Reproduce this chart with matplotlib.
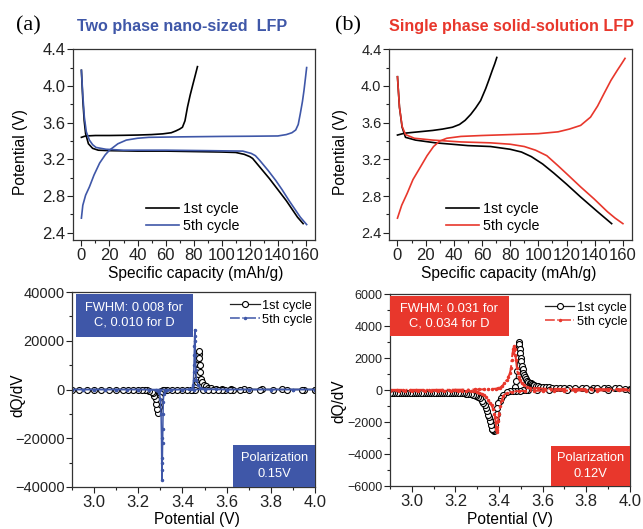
import matplotlib
matplotlib.use('Agg')
import matplotlib.pyplot as plt
from matplotlib.lines import Line2D
from matplotlib.patches import Rectangle
from matplotlib.ticker import MultipleLocator

plt.rcParams['font.family'] = ['Liberation Sans', 'DejaVu Sans']

BLUE = '#3f57a8'
RED = '#e8372c'

# ---- (a) galvanostatic curves, two phase nano-sized LFP ----
a1_chg_cap = [0, 3, 10, 20, 30, 40, 50, 58, 64, 67.3, 70, 72, 73.8, 75.6, 77.5, 79.5, 81.2, 82.7]
a1_chg_v = [3.44, 3.455, 3.46, 3.46, 3.462, 3.465, 3.47, 3.478, 3.49, 3.51, 3.53, 3.55, 3.62, 3.77, 3.90, 4.02, 4.12, 4.21]
a1_dis_cap = [0, 1, 2, 3, 5, 8, 12, 20, 40, 60, 80, 100, 110, 116, 120, 122, 128, 134, 140, 146, 150, 154, 158]
a1_dis_v = [4.17, 3.85, 3.62, 3.48, 3.37, 3.32, 3.30, 3.295, 3.29, 3.29, 3.285, 3.28, 3.275, 3.255, 3.23, 3.21, 3.10, 2.99, 2.87, 2.75, 2.66, 2.57, 2.50]
a5_chg_cap = [0, 1, 3, 5.7, 9, 13, 17, 20, 26, 32, 40, 48, 70, 100, 120, 140, 146, 150, 152.7, 154.5, 156, 157.5, 158.6, 159.6, 160.5]
a5_chg_v = [2.56, 2.70, 2.81, 2.90, 3.03, 3.16, 3.25, 3.30, 3.37, 3.41, 3.43, 3.44, 3.445, 3.45, 3.452, 3.455, 3.47, 3.49, 3.52, 3.58, 3.70, 3.83, 3.95, 4.08, 4.20]
a5_dis_cap = [0, 1, 2.1, 3.5, 5.7, 8, 10.4, 17.5, 30, 60, 90, 115, 121, 124, 127, 133, 138.5, 143, 148, 152, 156, 160.5]
a5_dis_v = [4.17, 3.90, 3.66, 3.50, 3.41, 3.36, 3.33, 3.31, 3.30, 3.30, 3.295, 3.29, 3.265, 3.24, 3.19, 3.08, 2.97, 2.87, 2.75, 2.66, 2.57, 2.49]

# ---- (b) galvanostatic curves, single phase solid-solution LFP ----
b1_chg_cap = [0, 5, 15, 25, 32, 39, 44, 48, 52, 55.5, 59, 62.6, 65, 67.3, 69, 70.5]
b1_chg_v = [3.465, 3.485, 3.50, 3.515, 3.53, 3.55, 3.58, 3.625, 3.69, 3.76, 3.84, 3.97, 4.07, 4.17, 4.24, 4.31]
b1_dis_cap = [0, 1.4, 3.3, 5.7, 12.8, 27, 50, 66, 80, 88, 95, 103, 111, 120, 130, 142, 152]
b1_dis_v = [4.10, 3.77, 3.55, 3.44, 3.41, 3.38, 3.35, 3.34, 3.31, 3.28, 3.23, 3.15, 3.05, 2.93, 2.79, 2.63, 2.50]
b5_chg_cap = [0, 3, 6.9, 11, 16.4, 21, 25.6, 30, 35, 45, 60, 80, 100, 114, 122, 130, 137, 142, 146.7, 151.5, 156, 159, 161.5]
b5_chg_v = [2.56, 2.70, 2.83, 2.98, 3.12, 3.24, 3.34, 3.40, 3.43, 3.45, 3.46, 3.47, 3.48, 3.50, 3.53, 3.57, 3.66, 3.78, 3.92, 4.06, 4.17, 4.24, 4.30]
b5_dis_cap = [0, 1.4, 3.3, 5.7, 12, 25, 45, 66, 80, 90, 98, 106, 114, 121, 130, 139.5, 149, 154.5, 160]
b5_dis_v = [4.10, 3.77, 3.56, 3.47, 3.43, 3.41, 3.39, 3.38, 3.365, 3.34, 3.30, 3.24, 3.13, 3.03, 2.90, 2.77, 2.63, 2.56, 2.50]

# ---- (a) dQ/dV ----
a1_dq_chg_v = [3.445, 3.452, 3.458, 3.462, 3.465, 3.467, 3.469, 3.470, 3.471, 3.472, 3.473, 3.474, 3.476, 3.478,
               3.481, 3.485, 3.490, 3.497, 3.505, 3.515, 3.53, 3.55, 3.58, 3.62, 3.68, 3.76, 3.85, 3.95, 4.0]
a1_dq_chg = [0, 300, 800, 1500, 3000, 4500, 6500, 8500, 10500, 12500, 14500, 16000, 13000, 10000,
             7000, 4500, 3000, 2000, 1300, 800, 500, 300, 150, 80, 40, 20, 10, 0, 0]
a1_dq_dis_v = [4.0, 3.939, 3.872, 3.811, 3.75, 3.702, 3.66, 3.627, 3.615, 3.592, 3.577, 3.562, 3.539, 3.517, 3.494,
               3.455, 3.44, 3.42, 3.396, 3.374, 3.351, 3.329, 3.318, 3.31, 3.302, 3.298, 3.296, 3.294, 3.292,
               3.290, 3.288, 3.285, 3.282, 3.278, 3.273, 3.267, 3.26, 3.25, 3.24, 3.23, 3.215, 3.197, 3.177,
               3.155, 3.129, 3.10, 3.066, 3.033, 3.0, 2.966, 2.933, 2.90]
a1_dq_dis = [0, 0, 0, 0, 0, 0, 0, 0, 0, 0, 0, 0, 0, 0, 0,
             0, 0, 0, 0, 0, -50, -100, -200, -400, -800, -1500, -3000, -5000, -7000,
             -8500, -9600, -8000, -6000, -4000, -2500, -1500, -900, -500, -300, -200, -100, -50, 0,
             0, 0, 0, 0, 0, 0, 0, 0, 0]
a5_dq_chg_v = [2.90, 2.95, 3.00, 3.05, 3.10, 3.15, 3.20, 3.25, 3.30, 3.35, 3.40, 3.43, 3.44, 3.445, 3.448,
               3.450, 3.451, 3.452, 3.453, 3.454, 3.455, 3.456, 3.457, 3.458, 3.460, 3.463, 3.47, 3.48,
               3.50, 3.55, 3.60, 3.70, 3.80, 3.90, 4.00]
a5_dq_chg = [0, 0, 0, 0, 0, 0, 0, 0, 0, 0, 0, 100, 300, 800, 2000,
             4000, 7000, 10000, 14000, 18000, 22000, 24500, 20000, 14000, 8000, 4000, 2000, 800,
             300, 100, 0, 0, 0, 0, 0]
a5_dq_dis_v = [4.00, 3.90, 3.80, 3.70, 3.60, 3.50, 3.45, 3.40, 3.35, 3.33, 3.32, 3.315, 3.313, 3.312, 3.311,
               3.310, 3.309, 3.308, 3.307, 3.306, 3.305, 3.303, 3.30, 3.295, 3.29, 3.28, 3.25, 3.20, 3.10,
               3.00, 2.90]
a5_dq_dis = [0, 0, 0, 0, 0, 0, 0, 0, -100, -300, -800, -2000, -5000, -10000, -16000,
             -22000, -28000, -33000, -37000, -30000, -20000, -10000, -4000, -1500, -700, -300, -100, 0, 0,
             0, 0]

# ---- (b) dQ/dV ----
b1_dq_chg_v = [3.472, 3.478, 3.483, 3.487, 3.490, 3.492, 3.494, 3.496, 3.498, 3.500, 3.502, 3.505, 3.508,
               3.512, 3.516, 3.52, 3.525, 3.53, 3.535, 3.54, 3.545, 3.55, 3.555, 3.56, 3.57, 3.58, 3.59,
               3.60, 3.615, 3.63, 3.645, 3.66, 3.68, 3.70, 3.72, 3.75, 3.78, 3.80, 3.83, 3.85, 3.88, 3.90,
               3.93, 3.95, 3.98, 4.0]
b1_dq_chg = [200, 600, 1200, 2000, 2700, 3000, 2900, 2600, 2300, 2000, 1800, 1500, 1300,
             1100, 950, 820, 700, 600, 530, 470, 420, 380, 350, 320, 280, 250, 225,
             205, 185, 170, 160, 150, 140, 135, 130, 125, 120, 118, 115, 112, 110, 108,
             106, 104, 102, 100]
b1_dq_dis_v = [4.0, 3.90, 3.82, 3.71, 3.63, 3.573, 3.535, 3.525, 3.51, 3.495, 3.48, 3.466, 3.45, 3.435,
               3.42, 3.41, 3.403, 3.397, 3.393, 3.389, 3.385, 3.381, 3.378, 3.375, 3.372, 3.369, 3.366,
               3.362, 3.358, 3.354, 3.351, 3.346, 3.34, 3.334, 3.328, 3.32, 3.312, 3.304, 3.296, 3.288,
               3.28, 3.27, 3.26, 3.25, 3.24, 3.23, 3.22, 3.21, 3.20, 3.19, 3.18, 3.17, 3.16, 3.15, 3.14,
               3.13, 3.12, 3.11, 3.10, 3.09, 3.08, 3.07, 3.06, 3.05, 3.04, 3.03, 3.02, 3.01, 3.00, 2.99,
               2.98, 2.97, 2.96, 2.95, 2.94, 2.93, 2.92, 2.91, 2.90]
b1_dq_dis = [0, 0, 0, 0, 0, 0, 0, -10, -20, -30, -40, -40, -80, -120,
             -310, -500, -650, -830, -1100, -1500, -1875, -2200, -2450, -2550, -2500, -2450, -2400,
             -2150, -1900, -1700, -1550, -1300, -1100, -950, -830, -650, -520, -430, -370, -320,
             -280, -250, -230, -215, -205, -200, -195, -190, -185, -180, -178, -175, -172, -170, -168,
             -166, -164, -162, -160, -158, -157, -156, -155, -154, -153, -152, -151, -150, -150, -150,
             -150, -150, -150, -150, -150, -150, -150, -150, -150]
b5_dq_chg_v = [2.90, 2.93, 2.96, 2.99, 3.02, 3.05, 3.08, 3.11, 3.14, 3.17, 3.20, 3.23, 3.26, 3.29, 3.31,
               3.33, 3.35, 3.37, 3.385, 3.395, 3.405, 3.415, 3.425, 3.435, 3.443, 3.45, 3.455, 3.458,
               3.462, 3.466, 3.469, 3.472, 3.475, 3.478, 3.482, 3.486, 3.49, 3.496, 3.505, 3.515, 3.527,
               3.54, 3.56, 3.58, 3.61, 3.64, 3.67, 3.70, 3.74, 3.78, 3.82, 3.86, 3.90, 3.94, 3.97, 4.0]
b5_dq_chg = [20, 20, 20, 20, 20, 20, 20, 20, 25, 25, 30, 30, 35, 40, 45,
             50, 60, 75, 90, 110, 160, 260, 420, 625, 850, 1040, 1400, 1875,
             2300, 2600, 2750, 2600, 2200, 1875, 1400, 1040, 800, 625, 420, 300, 200,
             160, 130, 110, 95, 85, 80, 75, 70, 68, 66, 64, 62, 60, 60, 60]
b5_dq_dis_v = [4.0, 3.95, 3.90, 3.85, 3.80, 3.75, 3.70, 3.65, 3.60, 3.56, 3.52, 3.49, 3.46, 3.435, 3.42,
               3.412, 3.405, 3.400, 3.396, 3.393, 3.391, 3.389, 3.387, 3.385, 3.382, 3.378, 3.372,
               3.366, 3.359, 3.35, 3.34, 3.33, 3.32, 3.31, 3.298, 3.285, 3.27, 3.25, 3.23, 3.21, 3.18,
               3.15, 3.12, 3.09, 3.06, 3.03, 3.00, 2.97, 2.94, 2.90]
b5_dq_dis = [-20, -20, -20, -25, -25, -25, -30, -30, -35, -40, -50, -60, -90, -190, -350,
             -625, -1000, -1460, -1900, -2300, -2500, -2600, -2400, -2000, -1700, -1460, -1150,
             -950, -830, -600, -420, -300, -220, -160, -100, -80, -65, -55, -50, -45, -42,
             -40, -38, -36, -35, -34, -33, -32, -31, -30]

fig = plt.figure(figsize=(6.43, 5.29), dpi=100)

ax_a = fig.add_axes([0.1135, 0.546, 0.3765, 0.361])
ax_b = fig.add_axes([0.605, 0.546, 0.378, 0.361])
ax_c = fig.add_axes([0.112, 0.0794, 0.378, 0.3686])
ax_d = fig.add_axes([0.6065, 0.081, 0.373, 0.363])


def style(ax, xfs, yfs):
    for s in ax.spines.values():
        s.set_color('#333333')
        s.set_linewidth(0.9)
    ax.tick_params(which='both', direction='out', top=False, right=False, colors='#222222',
                   pad=1.5, width=0.8)
    ax.tick_params(axis='x', labelsize=xfs)
    ax.tick_params(axis='y', labelsize=yfs)
    ax.tick_params(which='major', length=4)
    ax.tick_params(which='minor', length=2.5)


# top panels
for ax in (ax_a, ax_b):
    ax.set_xlim(-6, 166.5)
    ax.set_ylim(2.32, 4.4)
    ax.xaxis.set_major_locator(MultipleLocator(20))
    ax.xaxis.set_minor_locator(MultipleLocator(10))
    ax.yaxis.set_major_locator(MultipleLocator(0.4))
    ax.yaxis.set_minor_locator(MultipleLocator(0.2))
    ax.set_xlabel('Specific capacity (mAh/g)', fontsize=11.2)
    ax.set_ylabel('Potential (V)', fontsize=11.2)

ax_a.plot(a1_chg_cap, a1_chg_v, color='black', lw=1.2)
ax_a.plot(a1_dis_cap, a1_dis_v, color='black', lw=1.2, label='1st cycle')
ax_a.plot(a5_chg_cap, a5_chg_v, color=BLUE, lw=1.2)
ax_a.plot(a5_dis_cap, a5_dis_v, color=BLUE, lw=1.2, label='5th cycle')
style(ax_a, 12, 12)
ax_a.yaxis.set_label_coords(-0.186, 0.46)
ax_a.xaxis.set_label_coords(0.508, -0.136)
ax_a.legend(loc='lower left', bbox_to_anchor=(0.30, 0.04), frameon=False, fontsize=10.3,
            handlelength=2.3, handletextpad=0.3, labelspacing=0.2, borderaxespad=0, borderpad=0)

ax_b.plot(b1_chg_cap, b1_chg_v, color='black', lw=1.2)
ax_b.plot(b1_dis_cap, b1_dis_v, color='black', lw=1.2, label='1st cycle')
ax_b.plot(b5_chg_cap, b5_chg_v, color=RED, lw=1.2)
ax_b.plot(b5_dis_cap, b5_dis_v, color=RED, lw=1.2, label='5th cycle')
style(ax_b, 12, 10.5)
ax_b.yaxis.set_label_coords(-0.167, 0.46)
ax_b.xaxis.set_label_coords(0.494, -0.136)
ax_b.legend(loc='lower left', bbox_to_anchor=(0.235, 0.04), frameon=False, fontsize=10.3,
            handlelength=2.3, handletextpad=0.3, labelspacing=0.2, borderaxespad=0, borderpad=0)

# bottom panels
circ = dict(marker='o', ms=4.3, mfc='white', mec='black', mew=0.8, color='#222222', lw=0.9)
for ax in (ax_c, ax_d):
    ax.set_xlim(2.9, 4.0)
    ax.xaxis.set_major_locator(MultipleLocator(0.2))
    ax.xaxis.set_minor_locator(MultipleLocator(0.1))
    ax.set_xlabel('Potential (V)', fontsize=11.2)
    ax.set_ylabel('dQ/dV', fontsize=11.2)

ax_c.set_ylim(-40000, 40000)
ax_c.yaxis.set_major_locator(MultipleLocator(20000))
ax_c.yaxis.set_minor_locator(MultipleLocator(10000))
ax_c.plot(a1_dq_chg_v, a1_dq_chg, **circ)
ax_c.plot(a1_dq_dis_v, a1_dq_dis, **circ)
ax_c.plot(a5_dq_chg_v, a5_dq_chg, color=BLUE, lw=1.1, marker='.', ms=3)
ax_c.plot(a5_dq_dis_v, a5_dq_dis, color=BLUE, lw=1.1, marker='.', ms=3)
style(ax_c, 12, 10.5)
ax_c.yaxis.set_label_coords(-0.19, 0.47)
ax_c.xaxis.set_label_coords(0.514, -0.128)

ax_d.set_ylim(-6000, 6000)
ax_d.yaxis.set_major_locator(MultipleLocator(2000))
ax_d.yaxis.set_minor_locator(MultipleLocator(1000))
ax_d.plot(b1_dq_chg_v, b1_dq_chg, **circ)
ax_d.plot(b1_dq_dis_v, b1_dq_dis, **circ)
ax_d.plot(b5_dq_chg_v, b5_dq_chg, color=RED, lw=1.4, ls='-.', marker='.', ms=3)
ax_d.plot(b5_dq_dis_v, b5_dq_dis, color=RED, lw=1.4, ls='-.', marker='.', ms=3)
style(ax_d, 12, 9)
ax_d.yaxis.set_label_coords(-0.183, 0.44)
ax_d.xaxis.set_label_coords(0.5, -0.135)

for ax, col, fw, pol, box in [(ax_c, BLUE, 'FWHM: 0.008 for\nC, 0.010 for D', 'Polarization\n0.15V',
                               (0.016, 0.77, 0.482, 0.22, 0.663, 0.215)),
                              (ax_d, RED, 'FWHM: 0.031 for\nC, 0.034 for D', 'Polarization\n0.12V',
                               (0.0, 0.78, 0.496, 0.21, 0.671, 0.21))]:
    x0, y0, w0, h0, x1, h1 = box
    ax.add_patch(Rectangle((x0, y0), w0, h0, transform=ax.transAxes, color=col, zorder=5, lw=0))
    ax.text(x0 + w0 / 2, y0 + h0 / 2, fw, transform=ax.transAxes, color='white', fontsize=9.3,
            ha='center', va='center', zorder=6, linespacing=1.35)
    ax.add_patch(Rectangle((x1, 0), 1 - x1, h1, transform=ax.transAxes, color=col, zorder=5, lw=0))
    ax.text((1 + x1) / 2, h1 / 2, pol, transform=ax.transAxes, color='white', fontsize=9.3,
            ha='center', va='center', zorder=6, linespacing=1.35)
    c5 = BLUE if ax is ax_c else RED
    handles = [Line2D([], [], **circ),
               Line2D([], [], color=c5, lw=1.1, ls='-.', marker='.', ms=3)]
    ax.legend(handles, ['1st cycle', '5th cycle'], loc='upper right', bbox_to_anchor=(0.99, 0.96),
              frameon=False, fontsize=9.2, handlelength=2.3, handletextpad=0.2, labelspacing=0.15,
              borderaxespad=0, borderpad=0)

fig.text(0.044, 0.951, '(a)', family=['Liberation Serif', 'DejaVu Serif'], fontsize=16,
         ha='center', va='center')
fig.text(0.541, 0.951, '(b)', family=['Liberation Serif', 'DejaVu Serif'], fontsize=16,
         ha='center', va='center')
fig.text(0.283, 0.949, 'Two phase nano-sized  LFP', color=BLUE, fontsize=11.6, fontweight='bold',
         ha='center', va='center')
fig.text(0.795, 0.949, 'Single phase solid-solution LFP', color=RED, fontsize=11.6, fontweight='bold',
         ha='center', va='center')

fig.savefig('out.png', dpi=100)
